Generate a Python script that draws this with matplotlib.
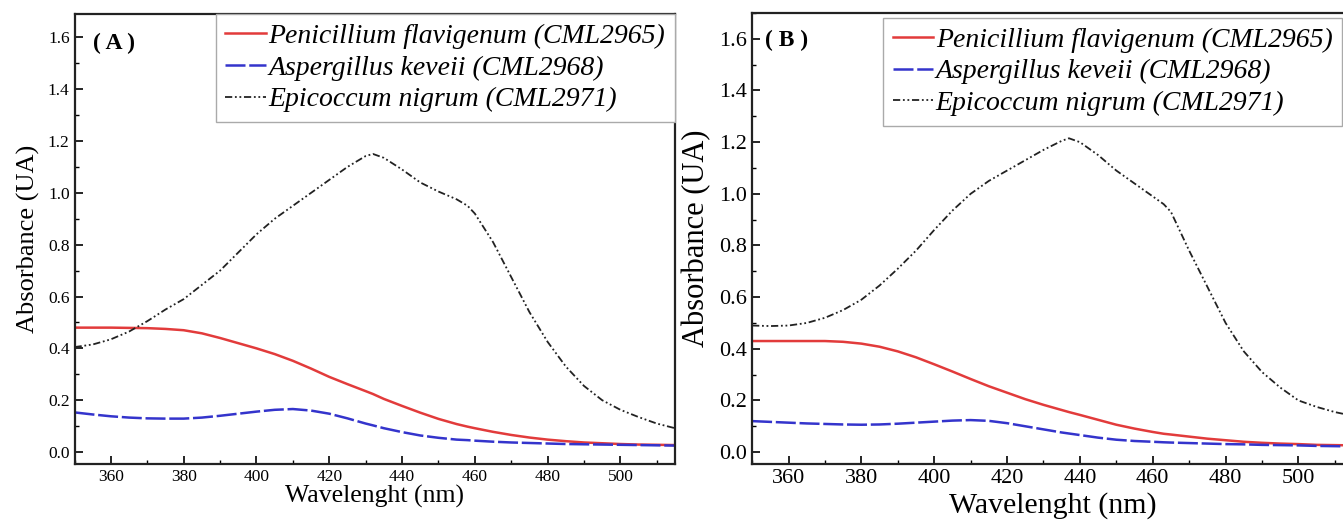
import numpy as np
import matplotlib
matplotlib.use("Agg")
import matplotlib.pyplot as plt
from matplotlib.ticker import MultipleLocator, FormatStrFormatter

plt.rcParams['font.family'] = ['Liberation Serif', 'DejaVu Serif']

names = ["Penicillium flavigenum (CML2965)",
         "Aspergillus keveii (CML2968)",
         "Epicoccum nigrum (CML2971)"]

# panel A, read every 5 nm
wl_a = [350, 355, 360, 365, 370, 375, 380, 385, 390, 395, 400, 405, 410, 415, 420, 425,
        430, 432, 435, 440, 445, 450, 455, 458, 460, 465, 470, 475, 480, 485, 490, 495,
        500, 505, 510, 515]
pen_a = [0.48, 0.48, 0.48, 0.479, 0.478, 0.475, 0.47, 0.458, 0.44, 0.42, 0.40, 0.378,
         0.352, 0.322, 0.29, 0.262, 0.235, 0.224, 0.205, 0.178, 0.152, 0.128, 0.108,
         0.098, 0.092, 0.078, 0.066, 0.056, 0.048, 0.042, 0.037, 0.034, 0.031, 0.029,
         0.028, 0.027]
asp_a = [0.153, 0.145, 0.138, 0.133, 0.13, 0.129, 0.129, 0.133, 0.14, 0.148, 0.156, 0.163,
         0.166, 0.16, 0.148, 0.13, 0.11, 0.103, 0.092, 0.077, 0.064, 0.055, 0.048, 0.046,
         0.044, 0.04, 0.037, 0.035, 0.033, 0.031, 0.03, 0.029, 0.028, 0.027, 0.026, 0.025]
epi_a = [0.405, 0.415, 0.435, 0.465, 0.505, 0.55, 0.59, 0.645, 0.70, 0.77, 0.84, 0.90,
         0.95, 1.0, 1.05, 1.10, 1.142, 1.15, 1.135, 1.09, 1.04, 1.005, 0.975, 0.95,
         0.92, 0.81, 0.675, 0.54, 0.425, 0.33, 0.255, 0.20, 0.163, 0.135, 0.11, 0.092]

# panel B
wl_b = [350, 355, 360, 365, 370, 375, 380, 385, 390, 395, 400, 405, 410, 415, 420, 425,
        430, 435, 437, 440, 445, 450, 455, 460, 463, 465, 470, 475, 480, 485, 490, 495,
        500, 505, 510, 515]
pen_b = [0.43, 0.43, 0.43, 0.43, 0.43, 0.427, 0.42, 0.408, 0.39, 0.367, 0.34, 0.312,
         0.283, 0.255, 0.23, 0.205, 0.183, 0.163, 0.155, 0.144, 0.125, 0.106, 0.091,
         0.078, 0.071, 0.068, 0.06, 0.052, 0.046, 0.04, 0.036, 0.033, 0.031, 0.028,
         0.027, 0.026]
asp_b = [0.12, 0.117, 0.114, 0.111, 0.109, 0.107, 0.106, 0.107, 0.11, 0.114, 0.118, 0.122,
         0.124, 0.121, 0.112, 0.10, 0.088, 0.076, 0.072, 0.066, 0.056, 0.048, 0.043,
         0.04, 0.038, 0.037, 0.035, 0.033, 0.031, 0.03, 0.028, 0.027, 0.026, 0.024,
         0.023, 0.022]
epi_b = [0.49, 0.488, 0.49, 0.50, 0.52, 0.55, 0.59, 0.645, 0.71, 0.78, 0.86, 0.935,
         1.0, 1.05, 1.09, 1.13, 1.17, 1.205, 1.215, 1.20, 1.15, 1.09, 1.04, 0.99,
         0.96, 0.93, 0.78, 0.64, 0.50, 0.39, 0.31, 0.25, 0.20, 0.175, 0.155, 0.14]

colors = ['#e23b3b', '#3434cc', '#222222']
widths = [1.8, 1.8, 1.3]
styles = ['-', (0, (8, 1.5)), (0, (4, 1.5, 1, 1.5, 1, 1.5))]


def panel(ax, wl, series, tag, tag_xy, tick_fs, xlab_fs, ylab_fs, leg_anchor, ytop, xpad):
    for ys, c, lw, ls, nm in zip(series, colors, widths, styles, names):
        ax.plot(wl, ys, color=c, ls=ls, lw=lw, label=nm)
    ax.set_xlim(350, 515)
    ax.set_ylim(-0.046, ytop)
    ax.set_xticks(np.arange(360, 515, 20))
    ax.set_yticks(np.arange(0, 1.61, 0.2))
    ax.xaxis.set_minor_locator(MultipleLocator(10))
    ax.yaxis.set_minor_locator(MultipleLocator(0.1))
    ax.yaxis.set_major_formatter(FormatStrFormatter('%.1f'))
    ax.tick_params(which='major', direction='in', length=6, width=1.2, labelsize=tick_fs)
    ax.tick_params(which='minor', direction='in', length=3, width=1)
    for s in ax.spines.values():
        s.set_linewidth(1.6)
        s.set_color('#222222')
    ax.set_xlabel("Wavelenght (nm)", fontsize=xlab_fs, labelpad=xpad)
    ax.set_ylabel("Absorbance (UA)", fontsize=ylab_fs, labelpad=6)
    ax.text(tag_xy[0], tag_xy[1], tag, transform=ax.transAxes, fontsize=17,
            fontweight='bold', va='center')
    leg = ax.legend(loc='upper right', bbox_to_anchor=leg_anchor,
                    prop={'style': 'italic', 'size': 20}, handlelength=1.45,
                    handletextpad=0.1, labelspacing=0.22, borderpad=0.35,
                    borderaxespad=0.0, fancybox=False, framealpha=1)
    leg.get_frame().set_edgecolor('#aaaaaa')
    leg.get_frame().set_linewidth(1.0)


fig = plt.figure(figsize=(13.43, 5.31), dpi=100)
ax1 = fig.add_axes([0.0555, 0.1262, 0.4471, 0.8475])
ax2 = fig.add_axes([0.56, 0.1262, 0.4475, 0.8493])

panel(ax1, wl_a, [pen_a, asp_a, epi_a], "( A )", (0.031, 0.935), 12.5, 18.5, 19,
      (1.0, 1.0), 1.69, 0)
panel(ax2, wl_b, [pen_b, asp_b, epi_b], "( B )", (0.022, 0.94), 16, 21.5, 22,
      (0.982, 0.99), 1.70, 3)

fig.savefig("out.png", dpi=100)
